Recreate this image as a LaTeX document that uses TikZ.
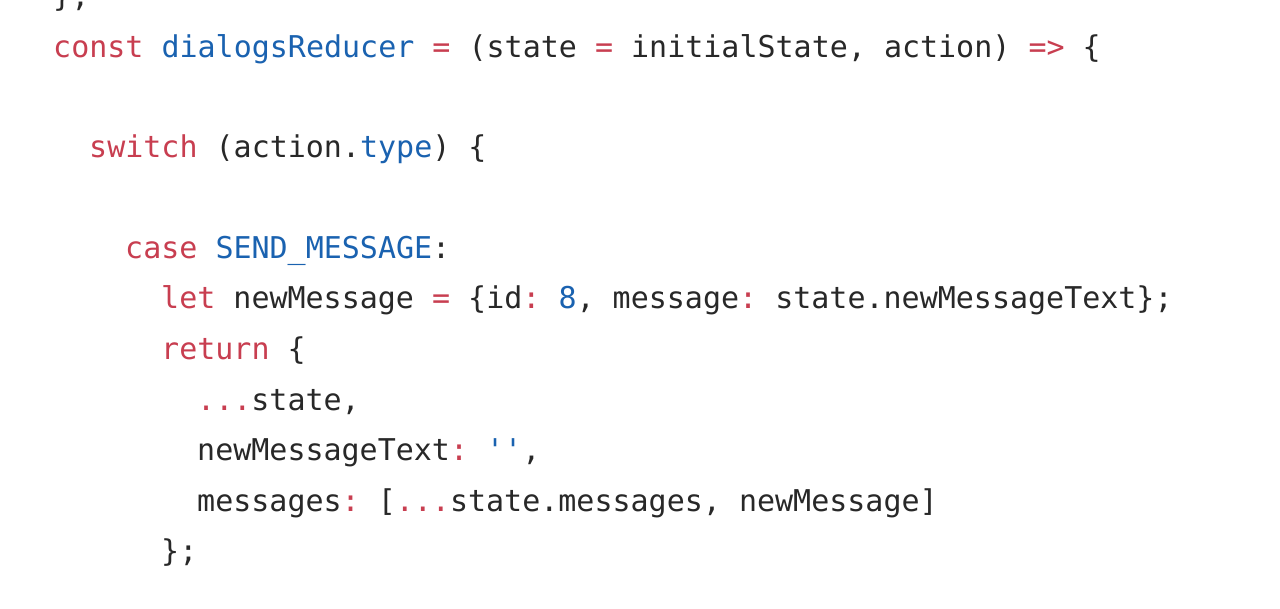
\documentclass[tikz,border=0pt]{standalone}
\usepackage{fontspec}
\setmonofont{DejaVu Sans Mono}
\usepackage{tikz}
\definecolor{kwred}{RGB}{200,62,80}
\definecolor{idblue}{RGB}{26,98,176}
\definecolor{codetxt}{RGB}{40,40,40}
\newcommand{\kw}[1]{\textcolor{kwred}{#1}}
\newcommand{\fn}[1]{\textcolor{idblue}{#1}}

\begin{document}
\begin{tikzpicture}[x=1pt,y=1pt]
        \tikzstyle{every node}+=[inner sep=0pt]
        \tikzstyle{code}=[anchor=base west,text=codetxt,font=\ttfamily\fontsize{30}{30}\selectfont]
        \useasboundingbox (0,0) rectangle (1280,-609);
        \clip (0,0) rectangle (1280,-609);
        \fill [white] (0,0) rectangle (1280,-609);
        \node [code] (l0) at (53,-7) {\};};
        \node [code] (l1) at (53,-57.5) {\kw{const} \fn{dialogsReducer} \kw{=} (state \kw{=} initialState, action) \kw{=>} \{};
        \node [code] (l3) at (89,-158) {\kw{switch} (action.\fn{type}) \{};
        \node [code] (l5) at (125,-258.5) {\kw{case} \fn{SEND\_MESSAGE}:};
        \node [code] (l6) at (161,-309) {\kw{let} newMessage \kw{=} \{id\kw{:} \fn{8}, message\kw{:} state.newMessageText\};};
        \node [code] (l7) at (161,-359.5) {\kw{return} \{};
        \node [code] (l8) at (197,-410) {\kw{...}state,};
        \node [code] (l9) at (197,-460.5) {newMessageText\kw{:} \fn{''},};
        \node [code] (l10) at (197,-511) {messages\kw{:} [\kw{...}state.messages, newMessage]};
        \node [code] (l11) at (161,-561.5) {\};};
    \end{tikzpicture}
\end{document}
